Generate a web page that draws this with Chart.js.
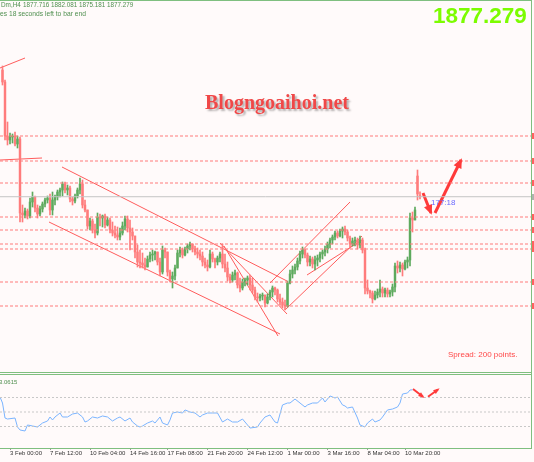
<!DOCTYPE html>
<html>
<head>
<meta charset="utf-8">
<script src="https://cdn.jsdelivr.net/npm/chart.js@4"></script>
<style>
  body { margin:0; background:#fffafa; width:534px; height:462px; overflow:hidden; position:relative; font-family:'Liberation Sans', Arial, sans-serif; }
  .box { position:absolute; left:0; width:534px; }
  .txt { position:absolute; white-space:nowrap; line-height:1; }
  .ln { position:absolute; background:#7fbf7f; }
</style>
</head>
<body>
<div class="box" style="top:0;height:372px"><canvas id="mainChart"></canvas></div>
<div class="box" style="top:374px;height:88px"><canvas id="indChart"></canvas></div>

<div class="ln" style="left:0;top:0;width:532px;height:1px"></div>
<div class="ln" style="left:531px;top:0;width:1px;height:449px"></div>
<div class="ln" style="left:0;top:372px;width:532px;height:1px"></div>
<div class="ln" style="left:0;top:374px;width:532px;height:1px"></div>
<div class="ln" style="left:0;top:448px;width:532px;height:1px"></div>

<div class="txt" style="left:1px;top:2px;font-size:6.4px;color:#4f8f4f">Dm,H4</div>
<div class="txt" style="left:23px;top:2px;font-size:6.3px;color:#4f8f4f">1877.716 1882.081 1875.181 1877.279</div>
<div class="txt" style="left:0;top:11px;font-size:6.7px;color:#4f8f4f">es 18 seconds left to bar end</div>
<div class="txt" style="left:433px;top:5px;font-size:22.5px;font-weight:bold;color:#7cfc00">1877.279</div>
<div class="txt" style="left:205px;top:92px;font-family:'Liberation Serif';font-size:20px;font-weight:bold;color:#f04848;text-shadow:2px 2px 2px rgba(0,0,0,0.3)">Blogngoaihoi.net</div>
<div class="txt" style="left:448px;top:351px;font-size:8px;color:#ff4848">Spread: 200 points.</div>
<div class="txt" style="left:431px;top:198.5px;font-size:8px;color:#6a6aff">177:18</div>
<div class="txt" style="left:-1px;top:378.5px;font-size:6px;color:#4f8f4f">3.0615</div>

<script>
// bar data (H4), price units
const opens = [2004,1992,1938,1934,1937,1938,1930,1935,1861,1859,
  1863,1858,1872,1877,1866,1860,1865,1870,1874,1876,
  1864,1874,1877,1882,1884,1890,1884,1886,1875,1873,
  1878,1884,1890,1869,1864,1848,1853,1844,1841,1857,
  1856,1858,1849,1854,1844,1841,1839,1837,1841,1848,
  1855,1846,1842,1838,1822,1812,1811,1809,1807,1815,
  1819,1820,1822,1812,1802,1824,1822,1802,1795,1798,
  1806,1821,1824,1819,1825,1828,1830,1825,1822,1820,
  1818,1812,1809,1807,1820,1815,1812,1816,1820,1810,
  1806,1797,1794,1799,1801,1789,1786,1792,1794,1796,
  1789,1784,1777,1776,1778,1779,1771,1777,1782,1786,
  1784,1775,1772,1769,1768,1791,1800,1804,1807,1813,
  1820,1824,1819,1812,1815,1810,1814,1816,1820,1822,
  1825,1830,1834,1837,1841,1838,1843,1845,1842,1836,
  1830,1833,1834,1829,1834,1824,1786,1783,1781,1775,
  1779,1782,1785,1781,1784,1780,1782,1787,1808,1806,
  1809,1805,1812,1814,1856,1854,1898,1877.716];
const highs = [2008,1994,1952,1941,1940,1942,1938,1937,1869,1866,
  1865,1876,1882,1878,1869,1868,1872,1876,1878,1880,
  1882,1879,1884,1886,1892,1892,1889,1888,1877,1880,
  1886,1896,1894,1874,1864,1856,1855,1850,1861,1860,
  1859,1860,1857,1856,1852,1848,1847,1846,1852,1858,
  1858,1854,1846,1838,1829,1824,1821,1816,1818,1822,
  1824,1823,1822,1816,1828,1826,1822,1804,1802,1809,
  1824,1827,1826,1827,1830,1832,1830,1828,1826,1824,
  1822,1816,1814,1824,1822,1816,1818,1822,1830,1820,
  1812,1800,1802,1804,1802,1796,1795,1796,1798,1799,
  1796,1787,1781,1780,1781,1779,1780,1784,1788,1787,
  1785,1780,1776,1774,1793,1804,1808,1810,1816,1823,
  1827,1825,1821,1818,1817,1818,1819,1822,1824,1828,
  1832,1836,1839,1843,1843,1845,1847,1848,1844,1838,
  1836,1837,1836,1838,1836,1826,1794,1784,1783,1783,
  1785,1794,1787,1786,1786,1784,1790,1811,1813,1812,
  1811,1814,1817,1861,1862,1867,1904,1882.081];
const lows = [1989,1934,1929,1930,1931,1928,1926,1852,1852,1856,
  1855,1856,1867,1862,1856,1858,1862,1867,1871,1859,
  1859,1869,1874,1877,1878,1881,1879,1872,1869,1871,
  1876,1880,1866,1862,1845,1844,1841,1836,1839,1848,
  1847,1846,1848,1841,1838,1836,1834,1834,1839,1844,
  1842,1824,1834,1816,1807,1806,1806,1804,1807,1812,
  1813,1814,1809,1798,1800,1816,1798,1792,1786,1794,
  1806,1817,1816,1818,1821,1824,1822,1819,1816,1814,
  1808,1806,1803,1806,1812,1806,1809,1812,1806,1802,
  1793,1791,1792,1794,1786,1782,1784,1788,1789,1784,
  1781,1774,1772,1773,1774,1767,1770,1774,1777,1779,
  1772,1769,1766,1764,1767,1790,1796,1800,1804,1810,
  1816,1816,1808,1808,1806,1804,1808,1812,1815,1818,
  1821,1826,1830,1834,1836,1837,1836,1839,1833,1826,
  1828,1828,1825,1826,1821,1780,1780,1776,1771,1774,
  1776,1777,1777,1777,1777,1777,1778,1782,1801,1802,
  1798,1804,1806,1808,1842,1854,1874,1875.181];
const closes = [1992,1938,1934,1937,1938,1930,1935,1861,1859,1863,
  1858,1872,1877,1866,1860,1865,1870,1874,1876,1864,
  1874,1877,1882,1884,1890,1884,1886,1875,1873,1878,
  1884,1890,1869,1864,1848,1853,1844,1841,1857,1856,
  1858,1849,1854,1844,1841,1839,1837,1841,1848,1855,
  1846,1842,1838,1822,1812,1811,1809,1807,1815,1819,
  1820,1822,1812,1802,1824,1822,1802,1795,1798,1806,
  1821,1824,1819,1825,1828,1830,1825,1822,1820,1818,
  1812,1809,1807,1820,1815,1812,1816,1820,1810,1806,
  1797,1794,1799,1801,1789,1786,1792,1794,1796,1789,
  1784,1777,1776,1778,1779,1771,1777,1782,1786,1784,
  1775,1772,1769,1768,1791,1800,1804,1807,1813,1820,
  1824,1819,1812,1815,1810,1814,1816,1820,1822,1825,
  1830,1834,1837,1841,1838,1843,1845,1842,1836,1830,
  1833,1834,1829,1834,1824,1786,1783,1781,1775,1779,
  1782,1785,1781,1784,1780,1782,1787,1808,1806,1809,
  1805,1812,1814,1856,1854,1864,1880,1877.279];

const bidPrice = 1877.279;
const levels = [1938, 1913, 1891, 1857, 1844, 1830, 1825, 1792, 1768];
// trend lines: [bar1, price1, bar2, price2]
const trendLines = [
  [-1, 2006, 9, 2016],
  [-1, 1914, 15.8, 1916],
  [23.8, 1907, 113.8, 1793],
  [18.6, 1852, 111, 1740],
  [87, 1831, 113.8, 1760],
  [88.6, 1828, 110.2, 1738],
  [107, 1791, 139, 1872],
  [113, 1764, 143.8, 1838],
  [121.8, 1799, 143.8, 1834]
];
const priceArrows = [[168.2, 1881, 171.4, 1861], [173, 1861, 183.4, 1914]];

// oscillator panel
const indIdx = [-1,0,1,2,5,6,7,9,10,12,14,16,18,19,20,21,23,24,26,28,30,32,33,34,36,38,40,42,44,46,47,49,51,52,54,55,56,58,60,61,63,64,66,67,68,70,72,73,75,77,79,80,82,84,86,88,90,92,94,96,98,99,102,103,105,107,109,110,112,114,115,117,119,121,122,124,126,128,129,131,133,134,136,137,138,140,142,143,145,146,148,149,151,152,154,156,158,159,160,162,163,164];
const indVal = [2.07,1.24,-0.83,-0.97,-0.83,-2.07,-2.48,-2.62,-1.79,-1.93,-2.07,-1.52,-1.24,-0.69,-1.10,-0.69,-0.14,-0.69,-0.69,-0.28,-0.14,-0.69,-1.38,-1.24,-0.69,-0.83,-0.55,-0.69,-1.24,-0.83,-0.69,-1.24,-0.83,-1.38,-1.93,-2.07,-1.93,-1.52,-1.24,-1.52,-0.69,-1.52,-1.79,-1.10,-0.14,0.00,-0.14,0.28,0.00,-0.14,-0.69,-0.41,-0.14,-0.14,-0.14,-1.38,-0.97,-1.38,-1.38,-0.97,-1.79,-2.21,-2.07,-1.52,-0.69,-0.41,-1.38,-1.52,0.97,1.24,1.24,1.79,1.24,0.69,0.97,1.24,1.24,1.93,1.38,2.21,1.93,2.07,0.97,0.83,0.55,0.69,-0.83,-1.79,-2.07,-1.52,-0.97,-1.38,-1.10,-0.69,0.28,0.41,0.69,1.24,2.48,2.62,3.03,3.06];
const indLevels = [2, 0, -2];
const indArrows = [[164.2, 3.17, 168.2, 2.1], [170.2, 2.1, 174.2, 3.1]];

const tickIdx = [3, 19, 35, 51, 66, 82, 98, 114, 130, 146, 161];
const tickLabels = ['3 Feb 00:00', '7 Feb 12:00', '10 Feb 04:00', '14 Feb 16:00', '17 Feb 08:00', '21 Feb 20:00',
  '24 Feb 12:00', '1 Mar 00:00', '3 Mar 16:00', '8 Mar 04:00', '10 Mar 20:00'];

const X_MIN = -1, X_MAX = 211.4;
const green = '#5eaa5e', red = '#ff7c7c';

// draw arrow heads at the end of datasets flagged with "arrow"
const arrowHeads = {
  id: 'arrowHeads',
  afterDatasetsDraw(chart) {
    const ctx = chart.ctx;
    chart.data.datasets.forEach((ds, i) => {
      if (!ds.arrow) return;
      const pts = chart.getDatasetMeta(i).data;
      const a = pts[0], b = pts[1];
      const ang = Math.atan2(b.y - a.y, b.x - a.x);
      const len = ds.arrow;
      ctx.save();
      ctx.fillStyle = ds.borderColor;
      ctx.beginPath();
      ctx.moveTo(b.x + Math.cos(ang) * 2, b.y + Math.sin(ang) * 2);
      ctx.lineTo(b.x - len * Math.cos(ang - 0.5), b.y - len * Math.sin(ang - 0.5));
      ctx.lineTo(b.x - len * Math.cos(ang + 0.5), b.y - len * Math.sin(ang + 0.5));
      ctx.closePath();
      ctx.fill();
      ctx.restore();
    });
  }
};

// little price-line markers on the right edge
const edgeMarks = {
  id: 'edgeMarks',
  afterDraw(chart) {
    const ctx = chart.ctx, y = chart.scales.y;
    ctx.save();
    ctx.fillStyle = '#ff6060';
    levels.forEach(l => ctx.fillRect(532, Math.round(y.getPixelForValue(l)) - 3, 2, 6));
    ctx.fillStyle = '#b0b0b0';
    ctx.fillRect(532, Math.round(y.getPixelForValue(bidPrice)) - 3, 2, 6);
    ctx.restore();
  }
};

function seg(x1, y1, x2, y2) { return [{x: x1, y: y1}, {x: x2, y: y2}]; }

document.addEventListener('DOMContentLoaded', function() {
  const bars = closes.map((c, i) => i);
  const colors = bars.map(i => closes[i] >= opens[i] ? green : red);

  const mainSets = [];
  levels.forEach(l => mainSets.push({
    type: 'line', data: seg(X_MIN, l, X_MAX, l), borderColor: '#ff7a7a',
    borderWidth: 1, borderDash: [3, 2], pointRadius: 0
  }));
  mainSets.push({
    type: 'line', data: seg(X_MIN, bidPrice, X_MAX, bidPrice), borderColor: '#c4c4c4',
    borderWidth: 1, pointRadius: 0
  });
  mainSets.push({
    type: 'bar', data: bars.map(i => ({x: i, y: [lows[i], highs[i]]})),
    backgroundColor: colors, barThickness: 1, grouped: false
  });
  mainSets.push({
    type: 'bar', data: bars.map(i => ({x: i, y: [opens[i], closes[i]]})),
    backgroundColor: colors, barThickness: 1.8, grouped: false, minBarLength: 1
  });
  trendLines.forEach(t => mainSets.push({
    type: 'line', data: seg(t[0], t[1], t[2], t[3]), borderColor: '#ff5c5c',
    borderWidth: 1, pointRadius: 0
  }));
  priceArrows.forEach(a => mainSets.push({
    type: 'line', data: seg(a[0], a[1], a[2], a[3]), borderColor: '#ff3a3a',
    borderWidth: 3, pointRadius: 0, arrow: 9
  }));

  new Chart(document.getElementById('mainChart').getContext('2d'), {
    type: 'bar',
    data: { datasets: mainSets },
    options: {
      responsive: true,
      maintainAspectRatio: false,
      animation: false,
      layout: { padding: { left: 0, right: 3, top: 0, bottom: 0 } },
      plugins: { legend: { display: false }, tooltip: { enabled: false } },
      scales: {
        x: { type: 'linear', min: X_MIN, max: X_MAX, display: false, offset: false },
        y: { min: 1702, max: 2074, display: false }
      }
    },
    plugins: [arrowHeads, edgeMarks]
  });

  const indSets = [];
  indLevels.forEach(l => indSets.push({
    data: seg(X_MIN, l, X_MAX, l), borderColor: '#c8c8c8',
    borderWidth: 1, borderDash: [2, 2], pointRadius: 0
  }));
  indSets.push({
    data: indIdx.map((x, i) => ({x: x, y: indVal[i]})), borderColor: '#7ab4ff',
    borderWidth: 1, pointRadius: 0, tension: 0
  });
  indArrows.forEach(a => indSets.push({
    data: seg(a[0], a[1], a[2], a[3]), borderColor: '#ff3a3a',
    borderWidth: 2, pointRadius: 0, arrow: 5
  }));

  new Chart(document.getElementById('indChart').getContext('2d'), {
    type: 'line',
    data: { datasets: indSets },
    options: {
      responsive: true,
      maintainAspectRatio: false,
      animation: false,
      layout: { padding: { left: 0, right: 3, top: 0, bottom: 0 } },
      plugins: { legend: { display: false }, tooltip: { enabled: false } },
      scales: {
        x: {
          type: 'linear', min: X_MIN, max: X_MAX, offset: false,
          border: { display: false },
          grid: { drawOnChartArea: false, tickLength: 2, color: '#9a9a9a' },
          afterBuildTicks: function(scale) { scale.ticks = tickIdx.map(v => ({ value: v })); },
          afterFit: function(scale) { scale.height = 14; },
          ticks: {
            autoSkip: false, maxRotation: 0, align: 'start', padding: 0, color: '#333',
            font: { family: 'Liberation Sans', size: 6 },
            callback: function(v, i) { return tickLabels[i]; }
          }
        },
        y: { min: -4.966, max: 5.241, display: false }
      }
    },
    plugins: [arrowHeads]
  });
});
</script>
</body>
</html>
